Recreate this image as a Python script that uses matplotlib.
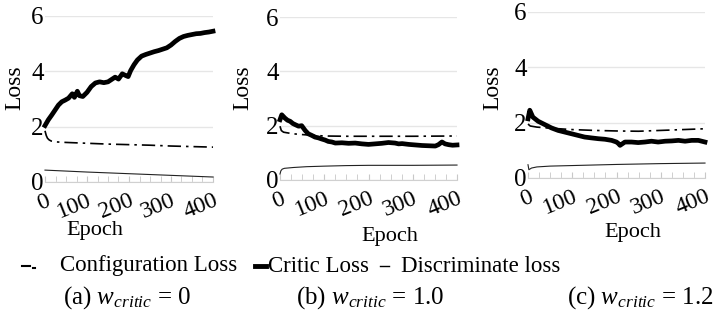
import matplotlib
matplotlib.use("Agg")
import matplotlib.pyplot as plt
from matplotlib.lines import Line2D

SERIF = ['Liberation Serif', 'DejaVu Serif']
plt.rcParams['font.family'] = SERIF
plt.rcParams['mathtext.fontset'] = 'custom'
plt.rcParams['mathtext.rm'] = 'Liberation Serif'
plt.rcParams['mathtext.it'] = 'Liberation Serif:italic'

# panel (a) w_critic = 0
critic_a_ep = [0, 8, 16, 24, 32, 40, 48, 56, 65, 70, 77, 82, 90, 100, 110, 120, 130, 140, 150, 160,
               167, 175, 184, 192, 198, 204, 212, 220, 230, 240, 250, 260, 270, 280, 290, 300,
               310, 320, 330, 340, 350, 360, 370, 380, 390, 400]
critic_a = [2.04, 2.25, 2.42, 2.60, 2.78, 2.90, 2.96, 3.03, 3.19, 3.06, 3.28, 3.12, 3.09, 3.24, 3.45,
            3.58, 3.62, 3.59, 3.62, 3.72, 3.79, 3.72, 3.91, 3.85, 3.81, 4.03, 4.24, 4.41, 4.55, 4.61,
            4.66, 4.71, 4.75, 4.80, 4.85, 4.95, 5.08, 5.19, 5.26, 5.30, 5.33, 5.36, 5.37, 5.40, 5.42, 5.45]
config_a_ep = [0, 3, 6, 10, 15, 25, 50, 100, 150, 200, 250, 300, 350, 400]
config_a = [1.85, 1.68, 1.58, 1.52, 1.48, 1.45, 1.43, 1.40, 1.37, 1.35, 1.33, 1.30, 1.28, 1.26]
disc_a_ep = [0, 100, 200, 300, 400]
disc_a = [0.43, 0.36, 0.30, 0.24, 0.18]

# panel (b) w_critic = 1.0
critic_b_ep = [0, 4, 11, 17, 23, 29, 34, 42, 49, 57, 64, 72, 79, 87, 94, 102, 109, 117, 125,
               140, 155, 170, 185, 200, 215, 230, 245, 260, 268, 276, 291, 306, 321, 336, 351,
               358, 366, 373, 381, 390, 400]
critic_b = [2.22, 2.40, 2.28, 2.20, 2.16, 2.08, 2.04, 1.98, 2.00, 1.82, 1.70, 1.64, 1.58, 1.55,
            1.51, 1.47, 1.42, 1.40, 1.36, 1.37, 1.35, 1.36, 1.33, 1.31, 1.33, 1.35, 1.38, 1.36,
            1.33, 1.34, 1.31, 1.29, 1.27, 1.26, 1.25, 1.30, 1.40, 1.33, 1.30, 1.28, 1.29]
config_b_ep = [0, 3, 8, 15, 30, 60, 100, 150, 200, 300, 400]
config_b = [1.98, 1.82, 1.76, 1.74, 1.70, 1.66, 1.62, 1.61, 1.61, 1.61, 1.62]
disc_b_ep = [0, 2, 5, 10, 30, 60, 100, 150, 200, 300, 400]
disc_b = [0.22, 0.34, 0.40, 0.43, 0.46, 0.49, 0.51, 0.53, 0.54, 0.54, 0.55]

# panel (c) w_critic = 1.2
critic_c_ep = [0, 4, 11, 23, 38, 53, 68, 83, 98, 113, 128, 143, 159, 174, 189, 200, 204, 208,
               219, 234, 249, 264, 279, 294, 310, 325, 340, 355, 370, 385, 400]
critic_c = [2.14, 2.45, 2.20, 2.05, 1.93, 1.81, 1.72, 1.66, 1.60, 1.54, 1.48, 1.45, 1.42, 1.40,
            1.36, 1.30, 1.25, 1.18, 1.30, 1.30, 1.28, 1.30, 1.33, 1.30, 1.33, 1.34, 1.36, 1.33,
            1.36, 1.36, 1.30]
config_c_ep = [0, 5, 20, 50, 100, 150, 200, 250, 300, 350, 400]
config_c = [1.95, 1.88, 1.84, 1.80, 1.75, 1.72, 1.70, 1.69, 1.72, 1.75, 1.78]
disc_c_ep = [0, 2, 8, 20, 50, 100, 200, 300, 400]
disc_c = [0.48, 0.30, 0.36, 0.40, 0.43, 0.45, 0.49, 0.52, 0.54]

xticks = [0, 100, 200, 300, 400]
xtick_labels = ["0", "100", "200", "300", "400"]
yticks = [0, 2, 4, 6]
ytick_labels = ["0", "2", "4", "6"]
legend_labels = ["Configuration Loss", "Critic Loss", "Discriminate loss"]
captions = [r"(a) $w_{critic}$ = 0", r"(b) $w_{critic}$ = 1.0", r"(c) $w_{critic}$ = 1.2"]

W, H = 719, 320
fig = plt.figure(figsize=(W / 100, H / 100), dpi=100)


def px(x0, y0, x1, y1):
    # pixel box (top-left origin) -> figure fraction rect
    return [x0 / W, 1 - y1 / H, (x1 - x0) / W, (y1 - y0) / H]


CONFIG_LS = (0, (8, 3, 1.5, 3))


def panel(rect, ce, c, fe, f, de, d, loss_xy, epoch_xy):
    ax = fig.add_axes(rect)
    ax.plot(fe, f, color='black', lw=1.2, ls=CONFIG_LS, clip_on=False)
    ax.plot(de, d, color='#222222', lw=0.8, clip_on=False)
    ax.plot(ce, c, color='black', lw=3.4, solid_joinstyle='round', clip_on=False)
    ax.set_xlim(0, 400)
    ax.set_ylim(0, 6)
    ax.set_yticks(yticks)
    ax.set_yticklabels(ytick_labels, fontsize=18, family=SERIF)
    ax.set_xticks(xticks)
    ax.set_xticklabels(xtick_labels, fontsize=17, family=SERIF, rotation=22, ha='right',
                       rotation_mode='anchor')
    ax.set_xticks(range(0, 401, 25), minor=True)
    ax.grid(axis='y', color='#e6e6e6', lw=1.0)
    ax.set_axisbelow(True)
    for s in ['top', 'right', 'left']:
        ax.spines[s].set_visible(False)
    ax.spines['bottom'].set_color('#d0d0d0')
    ax.tick_params(axis='y', length=0, pad=1)
    ax.tick_params(axis='x', which='both', direction='in', length=4, color='#c8c8c8', pad=6)
    fig.text(loss_xy[0] / W, 1 - loss_xy[1] / H, "Loss", rotation=90, fontsize=17,
             ha='center', va='center')
    fig.text(epoch_xy[0] / W, 1 - epoch_xy[1] / H, "Epoch", fontsize=16,
             ha='center', va='center')
    return ax


panel(px(45, 16, 213, 182), critic_a_ep, critic_a, config_a_ep, config_a, disc_a_ep, disc_a,
      (15, 88), (95, 231))
panel(px(280, 17, 457, 180), critic_b_ep, critic_b, config_b_ep, config_b, disc_b_ep, disc_b,
      (243, 88), (390, 237))
panel(px(528, 12, 705, 178), critic_c_ep, critic_c, config_c_ep, config_c, disc_c_ep, disc_c,
      (493, 88), (633, 233))

# legend row, drawn by hand to keep the original spacing
ly = 1 - 266 / H
fig.add_artist(Line2D([22 / W, 30 / W], [ly, ly], color='black', lw=1.5))
fig.add_artist(Line2D([33 / W, 34.5 / W], [ly - 1.5 / H, ly - 1.5 / H], color='black', lw=1.5))
fig.text(60 / W, ly, legend_labels[0], fontsize=16.5, ha='left', va='center')
fig.add_artist(Line2D([255 / W, 266 / W], [ly, ly], color='black', lw=3.5))
fig.text(268 / W, ly, legend_labels[1], fontsize=16.5, ha='left', va='center')
fig.add_artist(Line2D([380 / W, 389 / W], [ly, ly], color='black', lw=1.0))
fig.text(401 / W, ly, legend_labels[2], fontsize=16.5, ha='left', va='center')

# captions
cap_x = [127, 370, 640]
for cx, cap in zip(cap_x, captions):
    fig.text(cx / W, 1 - 298 / H, cap, fontsize=18, ha='center', va='center')

fig.savefig("out.png", dpi=100)
